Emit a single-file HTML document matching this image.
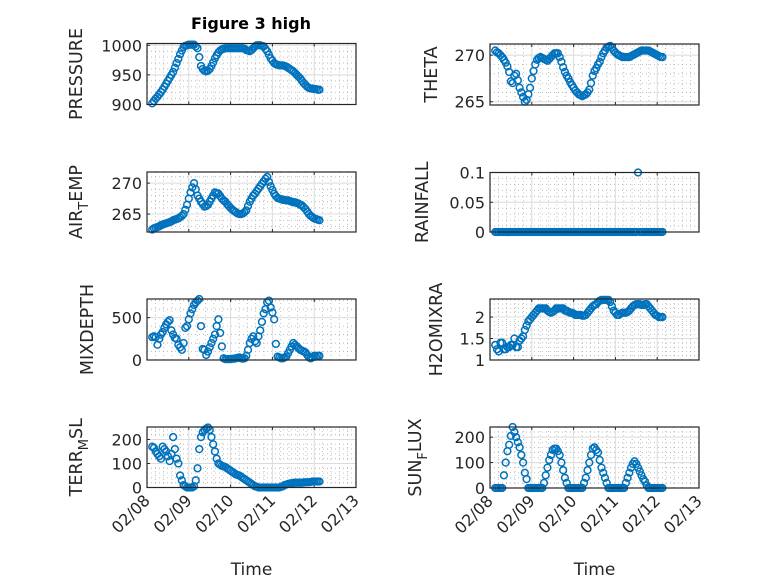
<!DOCTYPE html>
<html><head><meta charset="utf-8"><style>
html,body{margin:0;padding:0;background:#fff;}
svg{display:block;font-family:"DejaVu Sans","Liberation Sans",sans-serif;}
</style></head><body>
<svg id="fig" width="778" height="583" viewBox="0 0 778 583" xmlns="http://www.w3.org/2000/svg">
<rect width="778" height="583" fill="#fff"/>
<text x="251" y="29" text-anchor="middle" font-size="16" font-weight="bold" fill="#000">Figure 3 high</text>
</svg>
<script>
const hours = [3,4,5,6,7,8,9,10,11,12,13,14,15,16,17,18,19,20,21,22,23,24,25,26,27,28,29,30,31,32,33,34,35,36,37,38,39,40,41,42,43,44,45,46,47,48,49,50,51,52,53,54,55,56,57,58,59,60,61,62,63,64,65,66,67,68,69,70,71,72,73,74,75,76,77,78,79,80,81,82,83,84,85,86,87,88,89,90,91,92,93,94,95,96,97,98,99];
const xTickLabels = ["02/08","02/09","02/10","02/11","02/12","02/13"];
const pressure = [902,906,910,913,917,921,925,930,935,940,945,950,955,962,970,977,985,991,997,999,1000,1001,1001,1001,1001,998,995,980,965,960,957,956,957,960,965,971,978,983,988,991,993,994,995,995,995,995,995,995,995,995,995,995,995,994,992,991,990,992,995,998,1000,1000,1000,999,998,994,990,984,978,974,970,968,967,966,966,966,965,964,962,960,958,956,953,950,947,944,940,936,933,930,928,927,927,926,926,925,925];
const theta = [270.5,270.3,270.2,270,269.8,269.5,269.2,268.8,268.2,267.2,267,267.8,268,267.3,266.5,266,265.5,265,265.2,265.8,266.5,267.5,268.3,269,269.5,269.7,269.8,269.7,269.6,269.5,269.4,269.6,269.8,270,270.2,270.2,270.2,269.8,269.3,268.7,268.2,267.8,267.5,267.1,266.8,266.5,266.2,266,265.8,265.7,265.6,265.7,265.8,266,266.3,267,267.8,268.3,268.6,269,269.3,269.8,270.2,270.5,270.8,270.9,271,270.8,270.5,270.3,270.1,270,269.9,269.8,269.8,269.8,269.8,269.8,269.9,270,270.1,270.2,270.3,270.4,270.5,270.5,270.5,270.5,270.5,270.4,270.3,270.2,270.1,270,269.9,269.8,269.8];
const airTemp = [262.5,262.7,262.8,262.9,263,263.2,263.3,263.4,263.5,263.6,263.7,263.8,264,264.1,264.2,264.3,264.5,264.7,265,265.7,266.5,267.5,268.5,269.3,270,269,268,267.5,267,266.6,266.2,266.3,266.5,267,267.5,268,268.5,268.4,268.3,267.9,267.5,267.2,267,266.6,266.3,266,265.7,265.5,265.3,265.1,265,265,265.1,265.3,265.6,266.3,267,267.5,268,268.3,268.7,269.1,269.5,269.9,270.3,270.7,271,270.2,269.5,268.9,268.3,267.9,267.6,267.5,267.4,267.3,267.3,267.2,267.2,267.1,267,266.9,266.9,266.8,266.7,266.5,266.4,266.1,265.8,265.4,265,264.7,264.5,264.3,264.2,264.1,264];
const rainfall = [0,0,0,0,0,0,0,0,0,0, 0,0,0,0,0,0,0,0,0,0, 0,0,0,0,0,0,0,0,0,0, 0,0,0,0,0,0,0,0,0,0, 0,0,0,0,0,0,0,0,0,0, 0,0,0,0,0,0,0,0,0,0, 0,0,0,0,0,0,0,0,0,0, 0,0,0,0,0,0,0,0,0,0, 0,0,0.1,0,0,0,0,0,0,0, 0,0,0,0,0,0,0];
const mixDepth = [270,280,270,180,250,300,330,380,420,450,470,350,300,260,250,180,150,120,200,380,400,480,550,600,650,680,700,720,400,130,120,60,100,150,200,250,300,400,480,320,160,20,10,10,10,10,15,15,20,25,30,20,15,20,50,120,200,250,280,220,200,280,350,450,550,600,680,700,620,560,480,190,40,30,20,20,30,40,80,120,160,200,180,160,140,120,110,100,90,60,30,20,30,50,40,50,50];
const h2oMix = [1.35,1.25,1.2,1.4,1.4,1.25,1.25,1.3,1.3,1.35,1.35,1.5,1.3,1.3,1.45,1.5,1.55,1.7,1.8,1.9,1.95,2.0,2.05,2.1,2.15,2.2,2.2,2.2,2.2,2.2,2.15,2.12,2.1,2.12,2.15,2.2,2.2,2.2,2.2,2.2,2.15,2.15,2.12,2.1,2.1,2.08,2.05,2.05,2.05,2.05,2.03,2.03,2.05,2.1,2.15,2.2,2.25,2.28,2.3,2.35,2.38,2.4,2.4,2.4,2.4,2.4,2.35,2.25,2.15,2.1,2.05,2.05,2.08,2.1,2.1,2.1,2.12,2.15,2.2,2.25,2.28,2.3,2.3,2.3,2.28,2.28,2.3,2.3,2.25,2.2,2.15,2.1,2.05,2.03,2.0,2.0,2.0];
const terrMsl = [170,165,150,140,130,120,170,160,150,130,110,140,210,160,120,100,50,30,10,5,0,0,0,0,5,30,80,160,210,230,240,245,250,240,210,180,150,120,100,95,90,88,85,80,75,70,65,60,55,52,50,45,40,35,30,25,20,15,10,5,3,0,0,0,0,0,0,0,0,0,0,0,0,0,3,5,10,12,15,16,18,19,20,20,20,20,20,21,22,22,22,23,25,25,25,25,25];
const sunFlux = [0,0,0,0,0,50,100,145,170,205,240,220,200,180,160,130,100,60,35,0,0,0,0,0,0,0,0,0,20,50,80,110,130,150,155,155,145,130,100,70,40,20,0,0,0,0,0,0,0,0,0,20,40,70,100,130,155,160,150,140,110,80,60,40,20,0,0,0,0,0,0,0,0,0,0,20,40,60,80,95,105,95,80,65,50,35,25,10,0,0,0,0,0,0,0,0,0];
const pressureTicks = [900,950,1000];
const thetaTicks = [265,270];
const airTicks = [265,270];
const rainTicks = [0,0.05,0.1];
const mixTicks = [0,500];
const h2oTicks = [1,1.5,2];
const terrTicks = [0,100,200];
const sunTicks = [0,100,200];

const NS = "http://www.w3.org/2000/svg";
const svg = document.getElementById("fig");
function mk(tag, attrs, parent){const e=document.createElementNS(NS,tag);for(const k in attrs)e.setAttribute(k,attrs[k]);(parent||svg).appendChild(e);return e;}

const panels = [
 {key:"pressure", data:pressure, ticks:pressureTicks, minor:10, y0:900, y1:1003, L:147, T:43.5, B:104.5, label:[{t:"PRESSURE"}], lx:82},
 {key:"theta", data:theta, ticks:thetaTicks, minor:1, y0:264.65, y1:271.2, L:490, T:44, B:105, label:[{t:"THETA"}], lx:437},
 {key:"air-temp", data:airTemp, ticks:airTicks, minor:1, y0:262.1, y1:271.8, L:147, T:172, B:232, label:[{t:"AIR"},{t:"T",sub:true},{t:"EMP"}], lx:82},
 {key:"rainfall", data:rainfall, ticks:rainTicks, minor:0.01, y0:0, y1:0.1, L:490, T:172.5, B:232, label:[{t:"RAINFALL"}], lx:428},
 {key:"mixdepth", data:mixDepth, ticks:mixTicks, minor:100, y0:0, y1:720, L:147, T:299, B:360, label:[{t:"MIXDEPTH"}], lx:93},
 {key:"h2omixra", data:h2oMix, ticks:h2oTicks, minor:0.1, y0:1, y1:2.42, L:490, T:299, B:360, label:[{t:"H2OMIXRA"}], lx:442},
 {key:"terr-msl", data:terrMsl, ticks:terrTicks, minor:20, y0:0, y1:252, L:147, T:427, B:487.5, label:[{t:"TERR"},{t:"M",sub:true},{t:"SL"}], lx:82, bottom:true},
 {key:"sun-flux", data:sunFlux, ticks:sunTicks, minor:20, y0:0, y1:240, L:490, T:427, B:488, label:[{t:"SUN"},{t:"F",sub:true},{t:"LUX"}], lx:421, bottom:true}
];
const W = 209, DAYS = 5;

panels.forEach(p=>{
  const g = mk("g",{});
  
  
  const xs = h => p.L + h/24/DAYS*W;
  const ys = v => p.B - (v-p.y0)/(p.y1-p.y0)*(p.B-p.T);
  for(let d=0; d<DAYS; d++){ for(let m=1;m<5;m++){ const x=p.L+(d+m/5)*W/DAYS;
    mk("line",{x1:x,x2:x,y1:p.T,y2:p.B,stroke:"#b0b0b0","stroke-width":0.8,"stroke-dasharray":"1,3"},g);}}
  for(let v=Math.ceil(p.y0/p.minor)*p.minor; v<=p.y1+1e-9; v+=p.minor){ const y=ys(v);
    mk("line",{x1:p.L,x2:p.L+W,y1:y,y2:y,stroke:"#b0b0b0","stroke-width":0.8,"stroke-dasharray":"1,3"},g);}
  for(let d=1; d<DAYS; d++){ const x=p.L+d*W/DAYS;
    mk("line",{x1:x,x2:x,y1:p.T,y2:p.B,stroke:"#dcdcdc","stroke-width":1},g);}
  p.ticks.forEach(v=>{ const y=ys(v);
    mk("line",{x1:p.L,x2:p.L+W,y1:y,y2:y,stroke:"#dcdcdc","stroke-width":1},g);
    mk("line",{x1:p.L,x2:p.L+3,y1:y,y2:y,stroke:"#262626","stroke-width":1},g);
    const t = mk("text",{x:p.L-5,y:y+6,"text-anchor":"end","font-size":16,fill:"#262626"},g);
    
    
    t.textContent = String(v);
  });
  for(let d=0; d<=DAYS; d++){ const x=p.L+d*W/DAYS;
    mk("line",{x1:x,x2:x,y1:p.B,y2:p.B-3,stroke:"#262626","stroke-width":1},g);
    mk("line",{x1:x,x2:x,y1:p.T,y2:p.T+3,stroke:"#262626","stroke-width":1},g);
    if(p.bottom){
      const t = mk("text",{x:x+4,y:p.B+14,"text-anchor":"end","font-size":16,fill:"#262626",transform:`rotate(-45 ${x+4} ${p.B+14})`},g);
      
      
      t.textContent = xTickLabels[d];
    }
  }
  p.data.forEach((v,i)=>{
    const c = mk("circle",{cx:xs(hours[i]).toFixed(2),cy:ys(v).toFixed(2),r:3.4,fill:"none",stroke:"#0072BD","stroke-width":1.5},g);
    
    
  });
  mk("rect",{x:p.L,y:p.T,width:W,height:p.B-p.T,fill:"none",stroke:"#262626","stroke-width":1.2},g);
  const cy=(p.T+p.B)/2;
  const yl = mk("text",{x:p.lx,y:cy,"text-anchor":"middle","font-size":17.5,fill:"#262626",transform:`rotate(-90 ${p.lx} ${cy})`},g);
  
  
  p.label.forEach((part,idx)=>{
    const ts = mk("tspan",{},yl);
    if(part.sub){ ts.setAttribute("font-size","13"); ts.setAttribute("dy","6"); }
    else if(idx>0 && p.label[idx-1].sub){ ts.setAttribute("dy","-6"); }
    ts.textContent = part.t;
  });
  if(p.bottom){
    const xl = mk("text",{x:p.L+W/2,y:575,"text-anchor":"middle","font-size":17,fill:"#262626"},g);
    
    
    xl.textContent = "Time";
  }
});
</script>
</body></html>
